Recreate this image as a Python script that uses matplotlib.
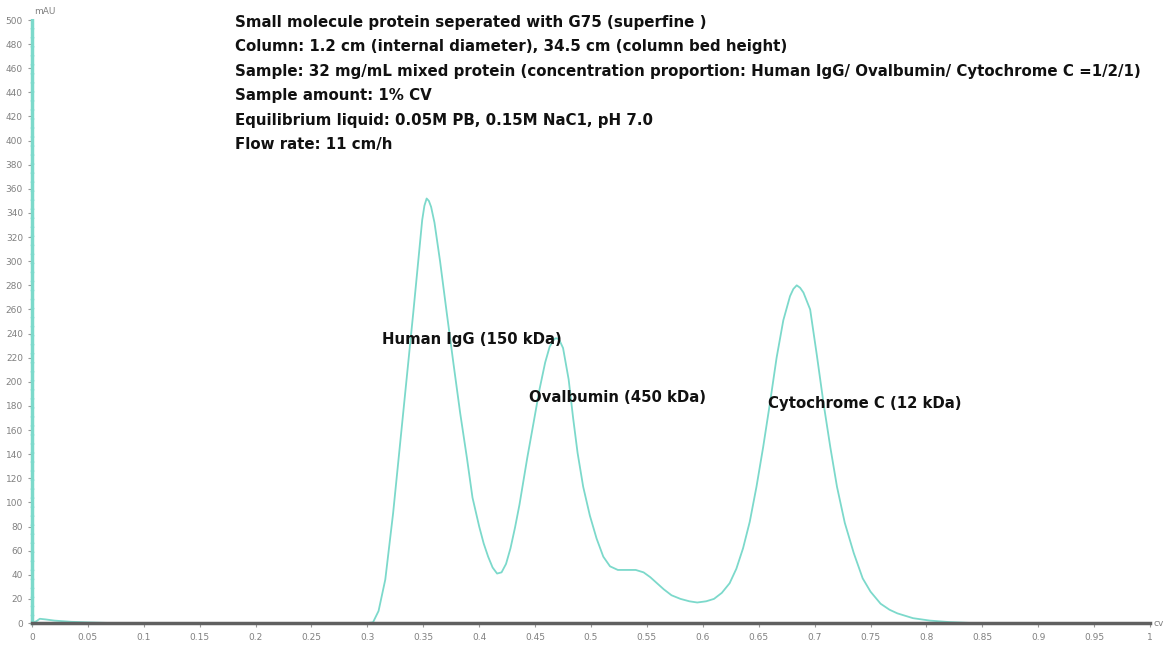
import matplotlib.pyplot as plt

# chromatogram trace (column volume vs mAU)
cv = [0.0, 0.004, 0.007, 0.012, 0.02, 0.035, 0.05, 0.07, 0.30, 0.305, 0.310,
      0.316, 0.323, 0.332, 0.341, 0.346, 0.349, 0.351, 0.353, 0.355, 0.357,
      0.360, 0.365, 0.371, 0.377, 0.383, 0.389, 0.394, 0.400, 0.404, 0.408,
      0.412, 0.416, 0.420, 0.424, 0.428, 0.432, 0.436, 0.443, 0.449, 0.454,
      0.459, 0.463, 0.466, 0.468, 0.470, 0.472, 0.475, 0.480, 0.484, 0.488,
      0.493, 0.499, 0.505, 0.511, 0.517, 0.524, 0.532, 0.540, 0.547, 0.553,
      0.559, 0.565, 0.572, 0.580, 0.588, 0.595, 0.603, 0.610, 0.617, 0.624,
      0.630, 0.636, 0.642, 0.648, 0.654, 0.660, 0.666, 0.672, 0.678, 0.681,
      0.684, 0.687, 0.690, 0.696, 0.702, 0.708, 0.714, 0.720, 0.727, 0.735,
      0.743, 0.750, 0.759, 0.767, 0.774, 0.788, 0.803, 0.82, 0.84, 1.0]
mau = [0, 1.5, 3.5, 3, 2, 1, 0.5, 0, 0, 0.5, 10,
       36, 91, 174, 257, 305, 334, 346, 352, 350, 345,
       332, 300, 257, 215, 174, 137, 104, 80, 66, 55,
       46, 41, 42, 49, 62, 79, 98, 137, 168, 194,
       216, 229, 234, 236, 236, 234, 228, 202, 170, 141,
       113, 89, 70, 55, 47, 44, 44, 44, 42, 38,
       33, 28, 23, 20, 18, 17, 18, 20, 25, 33,
       45, 62, 84, 113, 146, 182, 220, 251, 271, 277,
       280, 278, 274, 260, 222, 182, 146, 113, 83, 58,
       37, 26, 16, 11, 8, 4, 2, 0.8, 0, 0]

info_lines = [
    "Small molecule protein seperated with G75 (superfine )",
    "Column: 1.2 cm (internal diameter), 34.5 cm (column bed height)",
    "Sample: 32 mg/mL mixed protein (concentration proportion: Human IgG/ Ovalbumin/ Cytochrome C =1/2/1)",
    "Sample amount: 1% CV",
    "Equilibrium liquid: 0.05M PB, 0.15M NaC1, pH 7.0",
    "Flow rate: 11 cm/h",
]
peak_labels = ["Human IgG (150 kDa)", "Ovalbumin (450 kDa)", "Cytochrome C (12 kDa)"]
peak_label_pos = [(0.313, 235), (0.4445, 187), (0.658, 182)]

teal = '#7cd9cb'

fig = plt.figure(figsize=(11.71, 6.56), dpi=100)
ax = fig.add_axes([0.0273, 0.0503, 0.9548, 0.9192])

ax.plot(cv, mau, color=teal, lw=1.3)

ax.set_xlim(0, 1)
ax.set_ylim(0, 500)
ax.set_xticks([i * 0.05 for i in range(21)])
ax.set_xticklabels(['0' if i == 0 else ('1' if i == 20 else f'{i * 0.05:g}') for i in range(21)])
ax.set_yticks(range(0, 501, 20))
ax.tick_params(axis='both', labelsize=6.5, labelcolor='#808080', color='#999999', length=3, width=0.8)
ax.tick_params(axis='x', pad=4)

for s in ['top', 'right']:
    ax.spines[s].set_visible(False)
ax.spines['left'].set_color(teal)
ax.spines['left'].set_linewidth(2.5)
ax.spines['left'].set_linestyle((0, (2, 0.6)))
ax.spines['bottom'].set_color('#606060')
ax.spines['bottom'].set_linewidth(2.5)

ax.text(0.002, 503, 'mAU', fontsize=6.5, color='#808080', ha='left', va='bottom')
ax.text(1.003, 0, 'cv', fontsize=6.5, color='#808080', ha='left', va='center')

line_y = [498, 478, 457, 437, 417, 397]
for txt, yy in zip(info_lines, line_y):
    ax.text(0.1816, yy, txt, fontsize=10.85, fontweight='bold', family='DejaVu Sans',
            ha='left', va='center', color='#111111')

for txt, (px, py) in zip(peak_labels, peak_label_pos):
    ax.text(px, py, txt, fontsize=10.7, fontweight='bold', family='DejaVu Sans',
            ha='left', va='center', color='#111111')

fig.savefig('out.png', dpi=100)
